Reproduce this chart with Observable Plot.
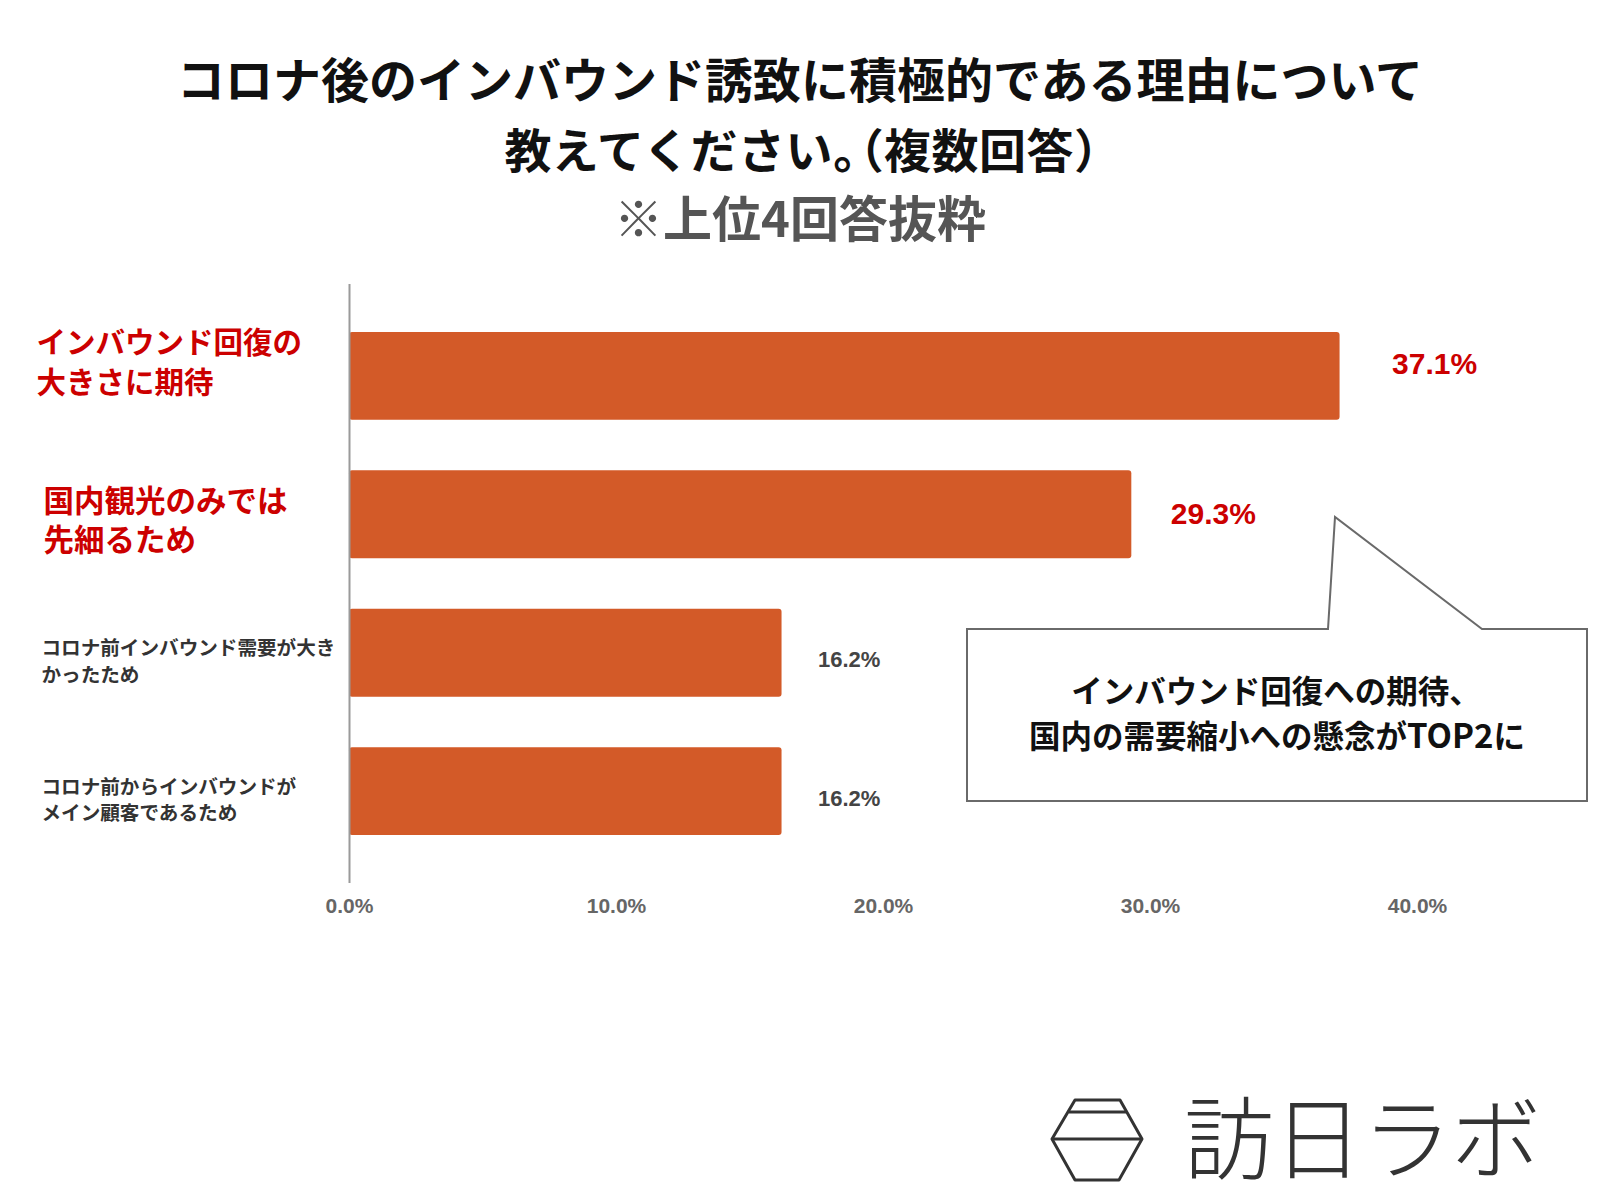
<!DOCTYPE html>
<html><head><meta charset="utf-8">
<script src="https://cdn.jsdelivr.net/npm/d3@7"></script>
<script src="https://cdn.jsdelivr.net/npm/@observablehq/plot@0.6"></script>
<style>
html,body{margin:0;padding:0;background:#fff;overflow:hidden}
#wrap{position:relative;width:1600px;height:1200px;background:#fff}
#chart{position:absolute;left:0;top:0}
.t{position:absolute;left:0;width:1600px;text-align:center;font-family:"Noto Sans CJK JP",sans-serif;font-weight:700;white-space:nowrap;line-height:60px;box-sizing:border-box}
#overlay{position:absolute;left:0;top:0}
</style></head><body>
<div id="wrap">
<div id="chart"></div>
<div class="t" style="top:47px;font-size:48px;color:#111">コロナ後のインバウンド誘致に積極的である理由について</div>
<div class="t" style="top:118px;font-size:47px;color:#111;letter-spacing:0.5px;padding-left:26px">教えてください<span style="letter-spacing:-20px">。</span>（複数回答）</div>
<div class="t" style="top:186px;font-size:49px;color:#555">※上位4回答抜粋</div>
<svg id="overlay" width="1600" height="1200">
  <path d="M967,629 L1328,629 L1335,517 L1482,629 L1587,629 L1587,801 L967,801 Z" fill="#fff" stroke="#6a6a6a" stroke-width="2"/>
  <text x="1276" y="703" text-anchor="middle" font-family="Noto Sans CJK JP" font-weight="700" font-size="31.5" fill="#111">インバウンド回復への期待、</text>
  <text x="1277" y="748" text-anchor="middle" font-family="Noto Sans CJK JP" font-weight="700" font-size="31.5" fill="#111">国内の需要縮小への懸念が<tspan font-size="33">TOP2</tspan>に</text>
  <g fill="none" stroke="#333" stroke-width="3" stroke-linejoin="round">
    <path d="M1075,1100 L1120,1100 L1142,1139 L1119,1180 L1075,1180 L1052,1139 Z"/>
    <path d="M1069,1112 L1126,1112"/>
    <path d="M1052,1139 L1142,1139"/>
  </g>
  <text x="1184" y="1172" font-family="Noto Sans CJK JP" font-weight="300" font-size="90" fill="#333" letter-spacing="-1">訪日ラボ</text>
</svg>
</div>
<script>
const categories = [
  "インバウンド回復の\n大きさに期待",
  "国内観光のみでは\n先細るため",
  "コロナ前インバウンド需要が大き\nかったため",
  "コロナ前からインバウンドが\nメイン顧客であるため"
];
const values = [37.1, 29.3, 16.2, 16.2];
const xTicks = [0, 10, 20, 30, 40];

const rows = categories.map((label, i) => ({label, value: values[i], rank: i}));
const jp = '"Noto Sans CJK JP", sans-serif';
const num = '"Liberation Sans", Arial, sans-serif';
const pct = d => d.value.toFixed(1) + "%";
const row = i => rows.filter(d => d.rank === i);
const rest = rows.filter(d => d.rank >= 2);

const chart = Plot.plot({
  width: 1600, height: 960,
  marginTop: 284, marginBottom: 77, marginLeft: 349, marginRight: 183,
  style: {fontFamily: num, background: "transparent"},
  x: {domain: [0, 40], axis: null, label: null},
  y: {domain: categories, paddingInner: 0.365, paddingOuter: 0.346, axis: null, round: false, label: null},
  marks: [
    Plot.barX(rows, {x: "value", y: "label", fill: "#d35a28", rx: 3}),
    Plot.ruleX([0], {stroke: "#9a9a9a", strokeWidth: 2}),
    Plot.axisX(xTicks, {tickSize: 0, tickPadding: 15, label: null, tickFormat: d => d.toFixed(1) + "%", fontSize: 21, fontWeight: "bold", fill: "#666", fontFamily: num}),
    // category labels
    Plot.text(row(0), {y: "label", text: "label", frameAnchor: "left", dx: -313, dy: -16, textAnchor: "start", fill: "#cc0000", fontSize: 29.5, fontWeight: "bold", fontFamily: jp, lineHeight: 1.36}),
    Plot.text(row(1), {y: "label", text: "label", frameAnchor: "left", dx: -306, dy: 4, textAnchor: "start", fill: "#cc0000", fontSize: 30.5, fontWeight: "bold", fontFamily: jp, lineHeight: 1.3}),
    Plot.text(rest, {y: "label", text: "label", frameAnchor: "left", dx: -308, dy: 7, textAnchor: "start", fill: "#333", fontSize: 19.6, fontWeight: "bold", fontFamily: jp, lineHeight: 1.35}),
    // value labels
    Plot.text(row(0), {x: "value", y: "label", text: pct, dx: 52, dy: -12, textAnchor: "start", fill: "#cc0000", fontSize: 30, fontWeight: "bold", fontFamily: num}),
    Plot.text(row(1), {x: "value", y: "label", text: pct, dx: 39, dy: 0, textAnchor: "start", fill: "#cc0000", fontSize: 30, fontWeight: "bold", fontFamily: num}),
    Plot.text(rest, {x: "value", y: "label", text: pct, dx: 36, dy: 7, textAnchor: "start", fill: "#444", fontSize: 22, fontWeight: "bold", fontFamily: num})
  ]
});
document.getElementById("chart").appendChild(chart);
</script>
</body></html>
